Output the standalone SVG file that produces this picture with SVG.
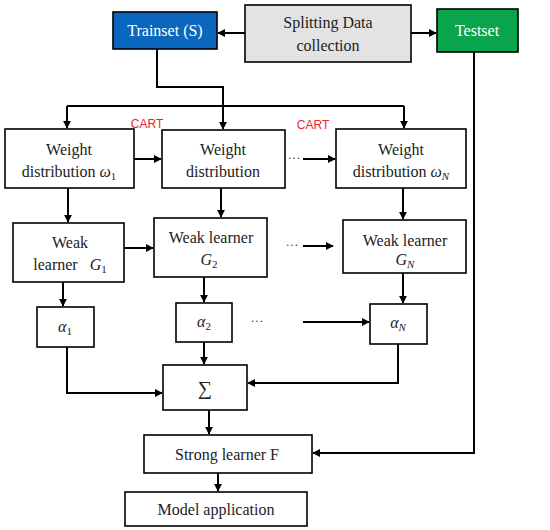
<svg xmlns="http://www.w3.org/2000/svg" width="550" height="530" viewBox="0 0 550 530">
<defs>
<marker id="ah" viewBox="0 0 10 10" refX="9" refY="5" markerWidth="4" markerHeight="4" orient="auto" markerUnits="strokeWidth">
<path d="M0,0 L10,5 L0,10 z" fill="#000"/>
</marker>
<style>
.box{fill:#fff;stroke:#000;stroke-width:1.6}
.t{font-family:"Liberation Serif","Times New Roman",serif;font-size:16px;fill:#222;text-anchor:middle}
.m{font-style:italic}
.sub{font-size:11px}
.w{fill:#fff}
.c{stroke:#000;stroke-width:2;fill:none}
.a{marker-end:url(#ah)}
.cart{font-family:"Liberation Sans",Arial,sans-serif;font-size:12px;fill:#e8262a;text-anchor:middle}
.dots{font-family:"Liberation Serif",serif;font-size:13px;fill:#444;text-anchor:middle}
</style>
</defs>
<rect width="550" height="530" fill="#fff"/>

<g id="connectors">
<path class="c a" d="M245,33 L218,33"/>
<path class="c a" d="M411,33 L436,33"/>
<path class="c a" d="M157,49 L157,87 L223,87 L223,129"/>
<path class="c" d="M67,106 L404,106"/>
<path class="c a" d="M67,106 L67,128"/>
<path class="c a" d="M404,106 L404,128"/>
<path class="c a" d="M134,159 L161,159"/>
<path class="c a" d="M303,159 L335,159"/>
<path class="c a" d="M68,188 L68,222"/>
<path class="c a" d="M221,188 L221,217"/>
<path class="c a" d="M403,188 L403,219"/>
<path class="c a" d="M124,248 L153,248"/>
<path class="c a" d="M303,246 L333,246"/>
<path class="c a" d="M63,282 L63,306"/>
<path class="c a" d="M204,277 L204,302"/>
<path class="c a" d="M403,273 L403,303"/>
<path class="c a" d="M303,322 L369,322"/>
<path class="c a" d="M204,342 L204,364"/>
<path class="c a" d="M67,347 L67,393 L162,393"/>
<path class="c a" d="M398,344 L398,383 L248,383"/>
<path class="c a" d="M209,410 L209,434"/>
<path class="c a" d="M218,473 L218,491"/>
<path class="c a" d="M474,52 L474,453 L313,453"/>
</g>

<g id="labels">
<text class="cart" x="147" y="128">CART</text>
<text class="cart" x="313" y="129">CART</text>
<text class="dots" x="294" y="162">···</text>
<text class="dots" x="292" y="249">···</text>
<text class="dots" x="257" y="325">···</text>
</g>

<g id="trainset">
<rect x="113" y="12" width="104" height="37" fill="#0b66bd" stroke="#000" stroke-width="1.6"/>
<text class="t w" x="165" y="36">Trainset (S)</text>
</g>
<g id="splitting">
<rect x="245" y="5" width="166" height="57" fill="#e3e3e3" stroke="#000" stroke-width="1.6"/>
<text class="t" x="328" y="28">Splitting Data</text>
<text class="t" x="328" y="51">collection</text>
</g>
<g id="testset">
<rect x="437" y="9" width="81" height="43" fill="#0aa44c" stroke="#000" stroke-width="1.6"/>
<text class="t w" x="477" y="36">Testset</text>
</g>

<g id="wd1">
<rect class="box" x="5" y="129" width="129" height="59"/>
<text class="t" x="69" y="155">Weight</text>
<text class="t" x="69" y="177">distribution <tspan class="m">ω</tspan><tspan class="sub" dy="3">1</tspan></text>
</g>
<g id="wd2">
<rect class="box" x="162" y="130" width="123" height="58"/>
<text class="t" x="223" y="155">Weight</text>
<text class="t" x="223" y="177">distribution</text>
</g>
<g id="wdN">
<rect class="box" x="336" y="129" width="130" height="59"/>
<text class="t" x="401" y="155">Weight</text>
<text class="t" x="401" y="177">distribution <tspan class="m">ω</tspan><tspan class="sub m" dy="3">N</tspan></text>
</g>

<g id="wl1">
<rect class="box" x="13" y="223" width="111" height="59"/>
<text class="t" x="70" y="248">Weak</text>
<text class="t" x="70" y="270">learner <tspan dx="8" class="m">G</tspan><tspan class="sub" dy="3">1</tspan></text>
</g>
<g id="wl2">
<rect class="box" x="154" y="218" width="113" height="59"/>
<text class="t" x="211" y="243">Weak learner</text>
<text class="t" x="209" y="265"><tspan class="m">G</tspan><tspan class="sub" dy="3">2</tspan></text>
</g>
<g id="wlN">
<rect class="box" x="343" y="220" width="123" height="53"/>
<text class="t" x="405" y="246">Weak learner</text>
<text class="t" x="405" y="265"><tspan class="m">G</tspan><tspan class="sub m" dy="3">N</tspan></text>
</g>

<g id="a1">
<rect class="box" x="37" y="307" width="57" height="40"/>
<text class="t" x="65" y="332"><tspan class="m">α</tspan><tspan class="sub" dy="3">1</tspan></text>
</g>
<g id="a2">
<rect class="box" x="176" y="303" width="56" height="39"/>
<text class="t" x="204" y="327"><tspan class="m">α</tspan><tspan class="sub" dy="3">2</tspan></text>
</g>
<g id="aN">
<rect class="box" x="370" y="304" width="57" height="40"/>
<text class="t" x="398" y="328"><tspan class="m">α</tspan><tspan class="sub m" dy="3">N</tspan></text>
</g>

<g id="sum">
<rect class="box" x="163" y="365" width="84" height="45"/>
<text class="t" x="205" y="395" style="font-size:20px">∑</text>
</g>
<g id="strong">
<rect class="box" x="144" y="435" width="168" height="38"/>
<text class="t" x="227" y="460">Strong learner F</text>
</g>
<g id="model">
<rect class="box" x="125" y="492" width="182" height="34"/>
<text class="t" x="216" y="515">Model application</text>
</g>
</svg>
